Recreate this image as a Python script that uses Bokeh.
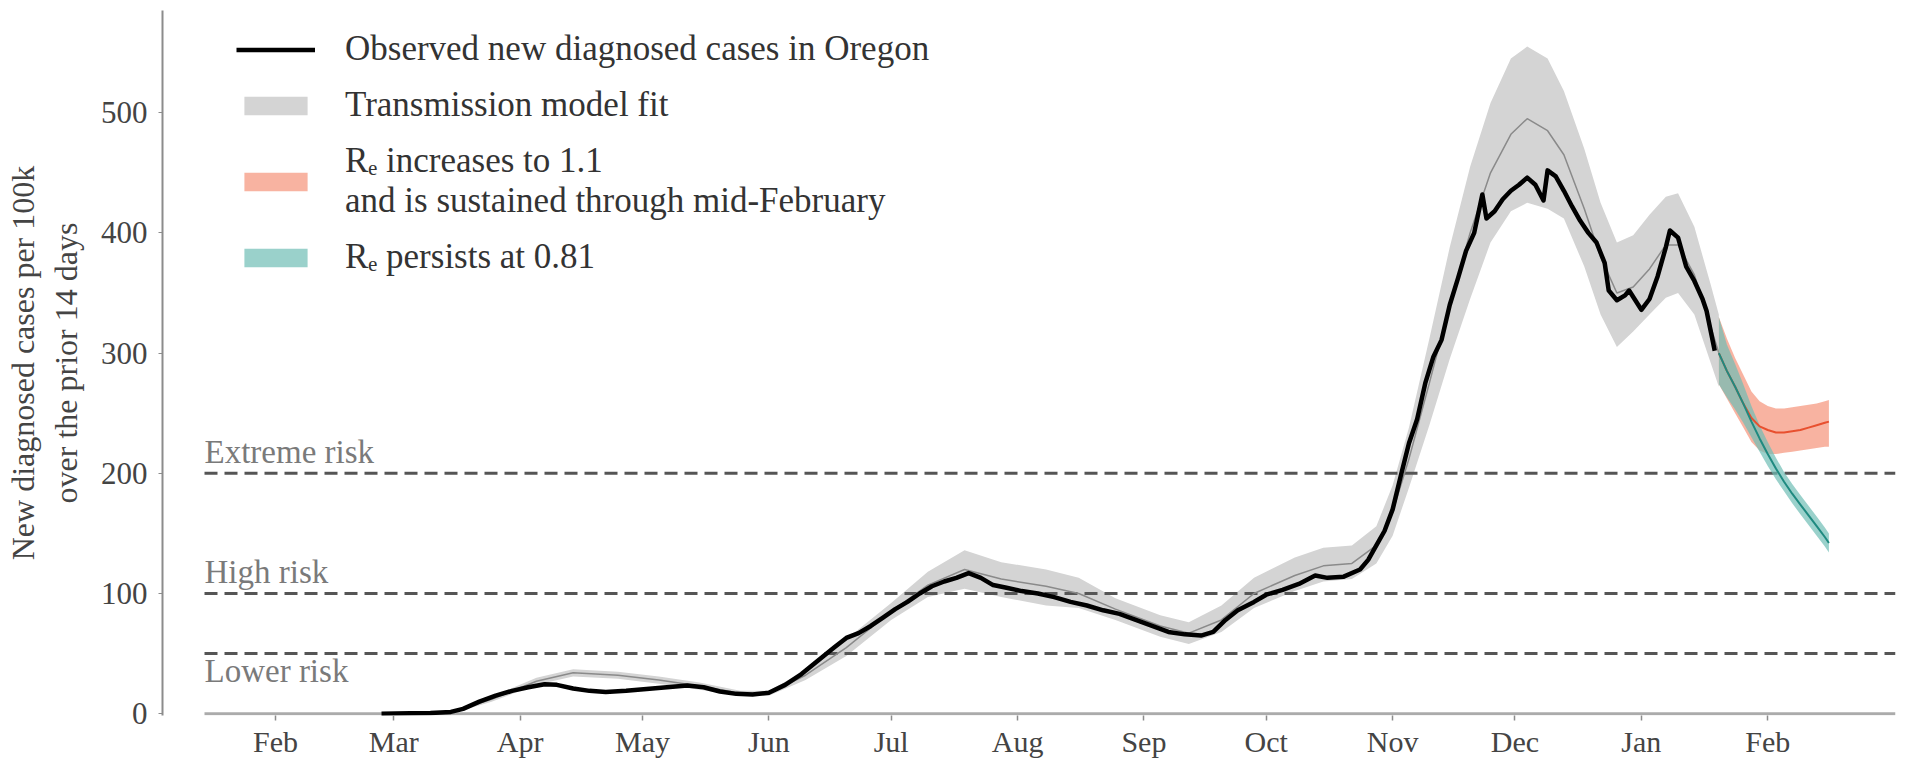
import pandas as pd
from bokeh.plotting import figure
from bokeh.models import (Range1d, FixedTicker, DatetimeTickFormatter, Label,
                          Legend, LegendItem)
from bokeh.embed import file_html
from bokeh.resources import INLINE

FONT = "Liberation Serif"

# ---------------- data ----------------
obs_dates = ["2020-02-27", "2020-03-05", "2020-03-10", "2020-03-15", "2020-03-18", "2020-03-22",
             "2020-03-26", "2020-03-30", "2020-04-03", "2020-04-07", "2020-04-10", "2020-04-14",
             "2020-04-18", "2020-04-22", "2020-04-27", "2020-05-02", "2020-05-07", "2020-05-12",
             "2020-05-16", "2020-05-20", "2020-05-24", "2020-05-28", "2020-06-01", "2020-06-05",
             "2020-06-09", "2020-06-13", "2020-06-17", "2020-06-20", "2020-06-23", "2020-06-26",
             "2020-06-29", "2020-07-02", "2020-07-05", "2020-07-08", "2020-07-11", "2020-07-14",
             "2020-07-17", "2020-07-20", "2020-07-23", "2020-07-26", "2020-07-29", "2020-08-02",
             "2020-08-06", "2020-08-10", "2020-08-14", "2020-08-18", "2020-08-22", "2020-08-26",
             "2020-08-30", "2020-09-03", "2020-09-07", "2020-09-11", "2020-09-15", "2020-09-18",
             "2020-09-21", "2020-09-24", "2020-09-28", "2020-10-01", "2020-10-05", "2020-10-09",
             "2020-10-13", "2020-10-16", "2020-10-20", "2020-10-24", "2020-10-26", "2020-10-28",
             "2020-10-30", "2020-11-01", "2020-11-03", "2020-11-05", "2020-11-07", "2020-11-09",
             "2020-11-11", "2020-11-13", "2020-11-15", "2020-11-17", "2020-11-19", "2020-11-21",
             "2020-11-23", "2020-11-24", "2020-11-26", "2020-11-28", "2020-11-30", "2020-12-02",
             "2020-12-04", "2020-12-06", "2020-12-08", "2020-12-09", "2020-12-11", "2020-12-13",
             "2020-12-15", "2020-12-17", "2020-12-19", "2020-12-21", "2020-12-23", "2020-12-24",
             "2020-12-26", "2020-12-28", "2020-12-29", "2021-01-01", "2021-01-03", "2021-01-05",
             "2021-01-07", "2021-01-08", "2021-01-10", "2021-01-12", "2021-01-14", "2021-01-16",
             "2021-01-17", "2021-01-19"]
obs_values = [0, 0.3, 0.6, 1.5, 4, 10,
              15, 19, 22, 24.5, 24, 21,
              19, 18, 19, 20.5, 22, 23.5,
              22, 18.5, 16.5, 16, 17.5, 24,
              33, 44, 55, 63, 67, 73,
              80, 87, 93, 100, 106, 110,
              113, 117, 113, 107, 105, 102,
              100, 97, 93, 90, 86, 83,
              78, 73, 68, 66, 65, 68,
              78, 86, 93, 99, 103, 108,
              115, 113, 114, 120, 128, 140,
              152, 170, 198, 225, 245, 275,
              297, 311, 340, 362, 385, 400,
              432, 412, 418, 428, 435, 440,
              446, 440, 427, 452, 447, 435,
              422, 410, 400, 392, 375, 352,
              344, 348, 352, 336, 345, 364,
              388, 402, 396, 372, 360, 345,
              335, 302]

fit_dates = ["2020-03-01", "2020-03-15", "2020-03-25", "2020-04-05", "2020-04-14", "2020-04-25",
             "2020-05-05", "2020-05-15", "2020-05-25", "2020-06-01", "2020-06-10", "2020-06-20",
             "2020-07-01", "2020-07-10", "2020-07-19", "2020-07-28", "2020-08-08", "2020-08-16",
             "2020-08-25", "2020-09-05", "2020-09-12", "2020-09-20", "2020-09-28", "2020-10-08",
             "2020-10-15", "2020-10-22", "2020-10-28", "2020-11-01", "2020-11-05", "2020-11-10",
             "2020-11-15", "2020-11-20", "2020-11-25", "2020-11-30", "2020-12-04", "2020-12-09",
             "2020-12-13", "2020-12-18", "2020-12-22", "2020-12-26", "2020-12-30", "2021-01-03",
             "2021-01-07", "2021-01-10", "2021-01-14", "2021-01-18", "2021-01-20"]
fit_mean = [0, 1, 12, 27, 34, 32,
            28, 23, 17, 17, 32, 55,
            85, 107, 120, 112, 106, 100,
            87, 73, 67, 78, 100, 115,
            123, 125, 140, 168, 212, 275,
            340, 400, 450, 482, 495, 485,
            465, 420, 380, 350, 355, 370,
            390, 390, 365, 322, 300]
fit_lower = [0, 0, 10, 24, 31, 29,
             25, 20, 15, 15, 28, 48,
             78, 97, 104, 97, 90, 88,
             78, 64, 58, 68, 88, 102,
             110, 112, 125, 148, 188, 240,
             295, 345, 392, 418, 425, 420,
             412, 372, 332, 305, 318, 332,
             346, 350, 332, 292, 272]
fit_upper = [0, 2, 14, 30, 37, 35,
             31, 26, 19, 19, 36, 62,
             92, 118, 136, 126, 120, 113,
             96, 82, 76, 90, 113, 130,
             138, 140, 156, 190, 238, 312,
             388, 455, 508, 545, 555, 545,
             518, 470, 425, 392, 398, 415,
             430, 433, 405, 357, 332]

proj_dates = ["2021-01-20", "2021-01-22", "2021-01-24", "2021-01-26", "2021-01-28", "2021-01-30",
              "2021-02-01", "2021-02-03", "2021-02-05", "2021-02-07", "2021-02-09", "2021-02-11",
              "2021-02-13", "2021-02-15", "2021-02-16"]
inc_mean = [300, 285, 272, 258, 246, 239, 236, 234, 234, 235, 236, 238, 240, 242, 243]
inc_lower = [274, 262, 250, 238, 226, 219, 216, 216, 217, 218, 219, 220, 221, 222, 222]
inc_upper = [330, 312, 296, 282, 268, 260, 256, 254, 254, 255, 256, 257, 258, 260, 261]
per_mean = [300, 285, 272, 258, 243, 229, 216, 204, 193, 183, 174, 165, 156, 147, 142]
per_lower = [274, 263, 253, 242, 230, 218, 206, 195, 185, 175, 166, 157, 148, 139, 134]
per_upper = [330, 307, 291, 274, 256, 240, 226, 213, 201, 191, 182, 173, 164, 155, 150]

risk_levels = [200, 100, 50]
risk_labels = ["Extreme risk", "High risk", "Lower risk"]
risk_label_side = ["above", "above", "below"]

month_ticks = ["2020-02-01", "2020-03-01", "2020-04-01", "2020-05-01", "2020-06-01", "2020-07-01",
               "2020-08-01", "2020-09-01", "2020-10-01", "2020-11-01", "2020-12-01", "2021-01-01",
               "2021-02-01"]
y_ticks = [0, 100, 200, 300, 400, 500]

legend_labels = ["Observed new diagnosed cases in Oregon",
                 "Transmission model fit",
                 "R\u2091 increases to 1.1\nand is sustained through mid-February",
                 "R\u2091 persists at 0.81"]

# ---------------- layout constants ----------------
x_start = pd.Timestamp("2020-01-04 06:45")
x_end = pd.Timestamp("2021-03-04 08:00")
panel_start = pd.Timestamp("2020-01-14 14:00")

obs_x = pd.to_datetime(obs_dates)
fit_x = pd.to_datetime(fit_dates)
proj_x = pd.to_datetime(proj_dates)


def to_ms(ts):
    return (pd.to_datetime(ts) - pd.Timestamp("1970-01-01")) // pd.Timedelta("1ms")


p = figure(width=1900, height=760, x_axis_type="datetime",
           x_range=Range1d(x_start, x_end), y_range=Range1d(-1.5, 585),
           output_backend="svg", toolbar_location=None,
           min_border_left=162, min_border_right=5, min_border_top=10, min_border_bottom=43)
p.outline_line_color = None
p.xgrid.visible = False
p.ygrid.visible = False
p.background_fill_color = "white"
p.border_fill_color = "white"

# model fit band
fit_band = p.varea(x=fit_x, y1=fit_lower, y2=fit_upper, fill_color="#d4d4d4", fill_alpha=1.0)

# risk thresholds + baseline
for lvl in risk_levels:
    p.segment(x0=[panel_start], x1=[x_end], y0=[lvl], y1=[lvl],
              line_color="#555555", line_width=3, line_dash="13 7")
p.segment(x0=[panel_start], x1=[x_end], y0=[0], y1=[0], line_color="#ababab", line_width=3)

for lvl, txt, side in zip(risk_levels, risk_labels, risk_label_side):
    p.add_layout(Label(x=panel_start, y=lvl, text=txt, text_font=FONT, text_font_size="33px",
                       text_color="#7a7a7a", text_baseline="middle", text_align="left",
                       y_offset=21 if side == "above" else -17))

# model mean
p.line(x=fit_x, y=fit_mean, line_color="#8a8a8a", line_width=1.5)

# observed
obs_line = p.line(x=obs_x, y=obs_values, line_color="black", line_width=4.5, line_join="round")

# projections
inc_band = p.varea(x=proj_x, y1=inc_lower, y2=inc_upper, fill_color="#f59a82", fill_alpha=0.75)
per_band = p.varea(x=proj_x, y1=per_lower, y2=per_upper, fill_color="#6fbdb5", fill_alpha=0.7)
p.line(x=proj_x, y=inc_mean, line_color="#e8502f", line_width=2)
p.line(x=proj_x, y=per_mean, line_color="#1f8a80", line_width=2)

# axes
p.yaxis.ticker = FixedTicker(ticks=y_ticks)
p.yaxis.minor_tick_line_color = None
p.yaxis.major_tick_in = 0
p.yaxis.major_tick_out = 4
p.yaxis.axis_line_color = "#8c8c8c"
p.yaxis.axis_line_width = 2
p.yaxis.major_tick_line_color = "#8c8c8c"
p.yaxis.major_label_text_font = FONT
p.yaxis.major_label_text_font_size = "31px"
p.yaxis.major_label_text_color = "#444444"
p.yaxis.major_label_standoff = 11
p.yaxis.axis_label = "New diagnosed cases per 100k\nover the prior 14 days"
p.yaxis.axis_label_text_font = FONT
p.yaxis.axis_label_text_font_size = "32px"
p.yaxis.axis_label_text_font_style = "normal"
p.yaxis.axis_label_text_color = "#444444"
p.yaxis.axis_label_standoff = 14

p.xaxis.ticker = FixedTicker(ticks=list(to_ms(month_ticks)))
p.xaxis.formatter = DatetimeTickFormatter(months="%b", days="%b", hours="%b", years="%b")
p.xaxis.minor_tick_line_color = None
p.xaxis.axis_line_color = None
p.xaxis.major_tick_in = 0
p.xaxis.major_tick_out = 5
p.xaxis.major_tick_line_color = "#8c8c8c"
p.xaxis.major_tick_line_width = 1.5
p.xaxis.major_label_text_font = FONT
p.xaxis.major_label_text_font_size = "30px"
p.xaxis.major_label_text_color = "#444444"
p.xaxis.major_label_standoff = 4

# legend
legend = Legend(items=[LegendItem(label=legend_labels[0], renderers=[obs_line]),
                       LegendItem(label=legend_labels[1], renderers=[fit_band]),
                       LegendItem(label=legend_labels[2], renderers=[inc_band]),
                       LegendItem(label=legend_labels[3], renderers=[per_band])],
                location=(74, 438), padding=0, margin=0, spacing=16,
                glyph_width=79, glyph_height=23, label_standoff=30,
                label_text_font=FONT, label_text_font_size="35px", label_text_color="#333333",
                label_text_line_height=1.05,
                border_line_color=None, background_fill_alpha=0)
p.add_layout(legend, "center")

open("out.html", "w").write(file_html(p, INLINE))
